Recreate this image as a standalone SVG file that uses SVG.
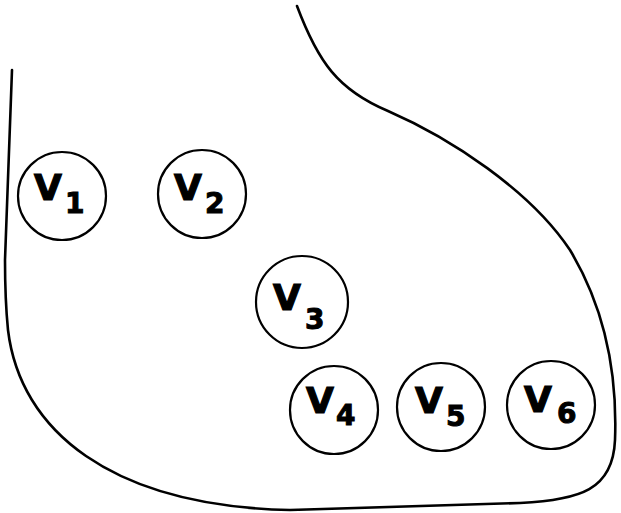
<svg xmlns="http://www.w3.org/2000/svg" width="621" height="513" viewBox="0 0 621 513">
  <style>
    .outline { fill: none; stroke: #000; stroke-width: 2.6; stroke-linejoin: round; stroke-linecap: round; }
    .node circle { fill: #fff; stroke: #000; stroke-width: 2.2; }
    .v { font-family: "DejaVu Sans", "Liberation Sans", sans-serif; font-weight: bold; font-size: 36px; fill: #000; stroke: #000; stroke-width: 1.2; }
    .sub { font-family: "DejaVu Sans", "Liberation Sans", sans-serif; font-weight: bold; font-size: 28px; fill: #000; stroke: #000; stroke-width: 1; }
  </style>
  <rect width="621" height="513" fill="#fff"/>

  <!-- enclosing region -->
  <path class="outline" d="M297,6 C318,62 338,90 388,111 C450,138 530,190 570,250 C600,300 618,360 615,440 C613,490 580,500 520,503 L290,510 C110,506 20,430 8,330 C5,300 5,280 5,260 L12,70"/>

  <g id="node-v1" class="node">
    <circle cx="62" cy="196" r="44"/>
    <text class="v" x="34" y="200">V</text>
    <text class="sub" x="65" y="213">1</text>
  </g>
  <g id="node-v2" class="node">
    <circle cx="202" cy="194" r="44"/>
    <text class="v" x="174" y="200">V</text>
    <text class="sub" x="205" y="213">2</text>
  </g>
  <g id="node-v3" class="node">
    <circle cx="302" cy="302" r="46"/>
    <text class="v" x="273" y="310">V</text>
    <text class="sub" x="305" y="329">3</text>
  </g>
  <g id="node-v4" class="node">
    <circle cx="334" cy="410" r="44"/>
    <text class="v" x="306" y="413">V</text>
    <text class="sub" x="336" y="425">4</text>
  </g>
  <g id="node-v5" class="node">
    <circle cx="441" cy="407" r="44"/>
    <text class="v" x="415" y="413">V</text>
    <text class="sub" x="446" y="426">5</text>
  </g>
  <g id="node-v6" class="node">
    <circle cx="551" cy="405" r="44"/>
    <text class="v" x="524" y="412">V</text>
    <text class="sub" x="557" y="423">6</text>
  </g>

  <g id="connectors"></g>
</svg>
